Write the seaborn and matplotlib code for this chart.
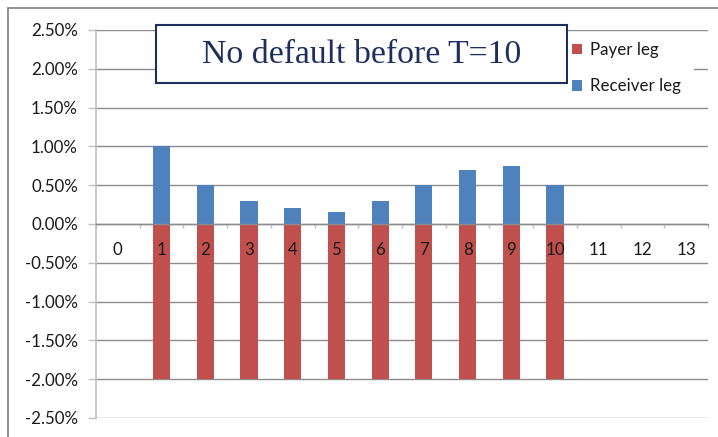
import matplotlib
matplotlib.use("Agg")
import matplotlib.pyplot as plt
from matplotlib.lines import Line2D
from matplotlib.patches import Rectangle, Patch
from matplotlib.ticker import FuncFormatter, FixedLocator
import seaborn as sns
import pandas as pd
import numpy as np

# Periods on the horizontal axis
periods = [str(i) for i in range(14)]
# Leg cash flows (percent of notional) for the periods that carry them
flow_periods = ["1", "2", "3", "4", "5", "6", "7", "8", "9", "10"]
payer_leg = [-2.0, -2.0, -2.0, -2.0, -2.0, -2.0, -2.0, -2.0, -2.0, -2.0]
receiver_leg = [1.0, 0.5, 0.3, 0.2, 0.15, 0.3, 0.5, 0.7, 0.75, 0.5]
y_ticks = [-2.5, -2.0, -1.5, -1.0, -0.5, 0.0, 0.5, 1.0, 1.5, 2.0, 2.5]
title = "No default before T=10"

RED = "#C0504D"
BLUE = "#4F81BD"
GRID = "#8C8C8C"
NAVY = "#1C2F5E"
TXT = "#1a1a1a"
FS = 12.2

sns.set_theme(style="white")
plt.rcParams["font.family"] = ["Lato", "DejaVu Sans"]

W, H = 718, 437
fig = plt.figure(figsize=(W / 100, H / 100), dpi=100)
ax = fig.add_axes([96 / W, 1 - 418 / H, (708 - 96) / W, (418 - 30) / H])

df = pd.DataFrame({"period": flow_periods, "payer": payer_leg, "receiver": receiver_leg})

sns.barplot(data=df, x="period", y="payer", order=periods, color=RED,
            saturation=1, width=0.39, ax=ax, zorder=3, edgecolor="none")
sns.barplot(data=df, x="period", y="receiver", order=periods, color=BLUE,
            saturation=1, width=0.39, ax=ax, zorder=3, edgecolor="none")

ax.set_xlim(-0.5, 13.5)
ax.set_ylim(-2.5, 2.5)
ax.set_xlabel("")
ax.set_ylabel("")

# Horizontal gridlines
ax.set_yticks(y_ticks)
ax.yaxis.set_major_formatter(FuncFormatter(lambda v, p: f"{v:.2f}%"))
ax.yaxis.grid(True, color=GRID, linewidth=1.0)
ax.set_axisbelow(True)
ax.tick_params(axis="y", which="major", direction="out", length=5.5, width=1.0,
               color="#BFBFBF", labelsize=FS, labelcolor=TXT, pad=7.5, left=True)

# Category axis sits on the zero line, ticks between categories
ax.spines["bottom"].set_position(("data", 0))
ax.spines["bottom"].set_color(GRID)
ax.spines["bottom"].set_linewidth(1.0)
ax.spines["bottom"].set_zorder(4)
ax.spines["left"].set_color("#BFBFBF")
ax.spines["left"].set_linewidth(1.2)
ax.spines["top"].set_visible(False)
ax.spines["right"].set_visible(False)
ax.set_xticks([])
ax.xaxis.set_minor_locator(FixedLocator(np.arange(-0.5, 14.0, 1.0)))
ax.tick_params(axis="x", which="minor", direction="out", length=3.2, width=1.0,
               color="#BFBFBF", bottom=True)
for i, lab in enumerate(periods):
    ax.text(i, -0.33, lab, ha="center", va="center", fontsize=FS,
            color=TXT, zorder=6)

# Title box
fig.add_artist(Rectangle((156 / W, 1 - 83 / H), (567 - 156) / W, (83 - 25) / H,
                         transform=fig.transFigure, facecolor="white",
                         edgecolor=NAVY, linewidth=1.5, zorder=5))
fig.text((156 + 567) / 2 / W, 1 - 55 / H, title, ha="center", va="center",
         fontsize=24.3, color=NAVY, family=["Liberation Serif", "DejaVu Serif"], zorder=6)

# Legend
fig.add_artist(Rectangle((568 / W, 1 - 102 / H), (694 - 568) / W, (102 - 32) / H,
                         transform=fig.transFigure, facecolor="white",
                         edgecolor="none", zorder=5))
handles = [Patch(facecolor=RED, edgecolor="none", label="Payer leg"),
           Patch(facecolor=BLUE, edgecolor="none", label="Receiver leg")]
leg = fig.legend(handles=handles, loc="upper left",
                 bbox_to_anchor=(572 / W, 1 - 42 / H), frameon=False,
                 fontsize=FS, handlelength=0.6, handleheight=0.6,
                 handletextpad=0.45, labelspacing=1.2, borderaxespad=0,
                 borderpad=0)
leg.set_zorder(6)
for t in leg.get_texts():
    t.set_color(TXT)

# Outer chart frame (left and top edges)
fig.add_artist(Line2D([8 / W, 8 / W], [0, 1 - 7.5 / H], transform=fig.transFigure,
                      color="#7F7F7F", linewidth=1.2))
fig.add_artist(Line2D([8 / W, 1], [1 - 7.5 / H, 1 - 7.5 / H], transform=fig.transFigure,
                      color="#7F7F7F", linewidth=1.2))

fig.savefig("out.png", dpi=100)
